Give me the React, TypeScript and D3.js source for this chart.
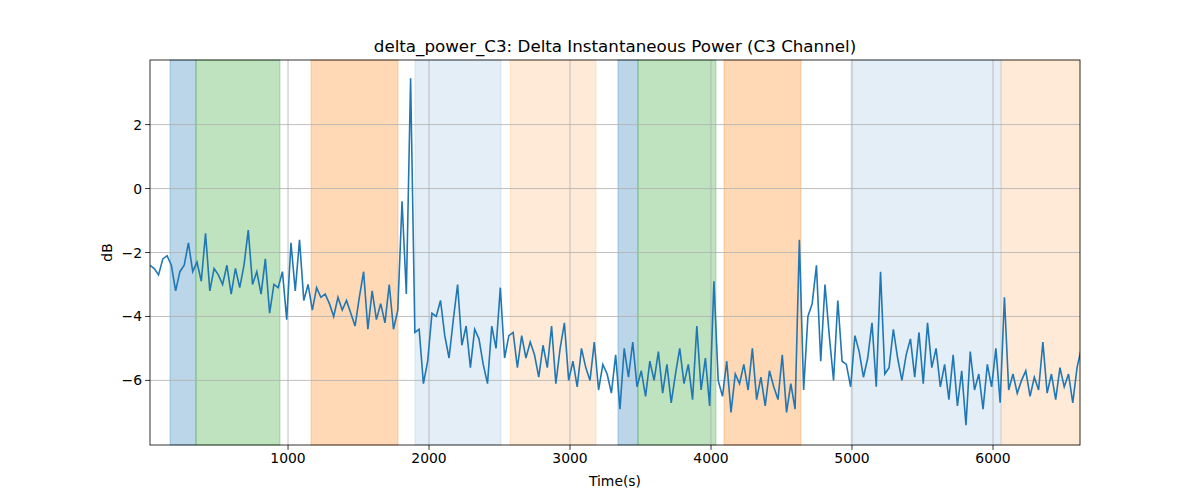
import React from "react";
import * as d3 from "d3";

const START = 21;
const STEP = 30.3;
const values: number[] = [
  -2.4, -2.5, -2.7, -2.2, -2.1, -2.4, -3.2, -2.6, -2.4, -1.7, -2.6, -2.3, -2.9, -1.4, -3.2, -2.5, -2.7, -3.0, -2.4, -3.3, -2.5, -3.1, -2.4, -1.3, -3.0, -2.6, -3.3, -2.2, -3.9, -3.0, -3.1, -2.6, -4.1,
  -1.7, -3.2, -1.6, -3.5, -3.0, -3.8, -3.1, -3.4, -3.3, -3.6, -4.0, -3.4, -3.8, -3.5, -3.9, -4.3, -3.4, -2.6, -4.4, -3.2, -4.1, -3.6, -4.2, -3.0, -4.4, -3.8, -0.4, -3.3, 3.45, -4.5, -4.4, -6.1, -5.4,
  -3.9, -4.0, -3.5, -4.6, -5.3, -4.1, -3.0, -4.9, -4.3, -5.6, -4.4, -4.7, -5.5, -6.1, -4.3, -5.0, -3.1, -5.3, -4.6, -4.5, -5.6, -4.6, -5.3, -4.8, -5.2, -5.9, -4.9, -5.6, -4.3, -6.1, -5.0, -4.2, -6.0,
  -5.4, -6.2, -5.0, -5.6, -6.0, -4.8, -6.3, -5.5, -5.8, -6.4, -5.2, -6.9, -5.0, -5.9, -4.8, -6.2, -5.7, -6.5, -5.4, -6.0, -5.1, -6.4, -5.5, -6.7, -5.8, -5.0, -6.1, -5.5, -6.6, -4.3, -6.3, -5.3, -6.8,
  -2.9, -6.0, -6.5, -5.4, -7.0, -5.8, -6.1, -5.5, -6.3, -5.0, -6.6, -5.9, -6.8, -5.7, -6.2, -6.6, -5.2, -7.0, -6.1, -6.9, -1.6, -6.3, -4.0, -3.6, -2.4, -5.4, -3.0, -4.6, -6.0, -3.5, -5.4, -5.5, -6.2,
  -4.6, -5.1, -5.9, -5.3, -4.2, -6.2, -2.6, -5.8, -5.6, -4.4, -5.3, -6.0, -5.2, -4.7, -5.9, -4.5, -6.1, -4.2, -5.6, -5.0, -6.2, -5.5, -6.6, -5.2, -6.8, -5.7, -7.4, -5.1, -6.3, -5.8, -6.9, -5.5, -6.2,
  -5.0, -6.7, -3.4, -6.3, -5.8, -6.4, -6.0, -5.7, -6.5, -5.9, -6.3, -4.8, -6.4, -5.8, -6.6, -5.6, -6.2, -5.8, -6.7, -5.6, -5.0,
];
const times = values.map((_, i) => START + STEP * i);

const spanStarts = [163, 347, 1163, 1900, 2575, 3340, 3482, 4092, 4993, 6057];
const spanEnds = [347, 943, 1780, 2511, 3184, 3482, 4035, 4638, 6057, 6617];
const spanColors = ["#1f77b4", "#2ca02c", "#ff7f0e", "#1f77b4", "#ff7f0e", "#1f77b4", "#2ca02c", "#ff7f0e", "#1f77b4", "#ff7f0e"];
const spanAlphas = [0.3, 0.3, 0.3, 0.12, 0.16, 0.3, 0.3, 0.3, 0.12, 0.16];

const xTicks = [1000, 2000, 3000, 4000, 5000, 6000];
const yTicks = [2, 0, -2, -4, -6];

export default function App() {
  const m = { left: 150, right: 1080, top: 60, bottom: 445 };
  const x = d3.scaleLinear().domain([21, 6617]).range([m.left, m.right]);
  const y = d3.scaleLinear().domain([-8.02, 4.02]).range([m.bottom, m.top]);
  const line = d3.line<number>().x((_, i) => x(times[i])).y((d) => y(d));
  const font = "DejaVu Sans, sans-serif";
  return (
    <svg width={1200} height={500} style={{ position: "absolute", left: 0, top: 0, background: "#fff" }} fontFamily={font}>
      <defs>
        <clipPath id="c"><rect x={m.left} y={m.top} width={m.right - m.left} height={m.bottom - m.top} /></clipPath>
      </defs>
      {spanStarts.map((s, i) => (
        <rect key={i} x={x(s)} y={m.top} width={x(spanEnds[i]) - x(s)} height={m.bottom - m.top}
          fill={spanColors[i]} fillOpacity={spanAlphas[i]} stroke={spanColors[i]} strokeOpacity={spanAlphas[i]} />
      ))}
      {xTicks.map((t) => <line key={t} x1={x(t)} x2={x(t)} y1={m.top} y2={m.bottom} stroke="#b0b0b0" strokeWidth={0.8} />)}
      {yTicks.map((t) => <line key={t} x1={m.left} x2={m.right} y1={y(t)} y2={y(t)} stroke="#b0b0b0" strokeWidth={0.8} />)}
      <path d={line(values) || ""} fill="none" stroke="#1f77b4" strokeWidth={1.6} clipPath="url(#c)" />
      <rect x={m.left} y={m.top} width={m.right - m.left} height={m.bottom - m.top} fill="none" stroke="#000" strokeWidth={0.8} />
      {xTicks.map((t) => (
        <g key={t}>
          <line x1={x(t)} x2={x(t)} y1={m.bottom} y2={m.bottom + 4.9} stroke="#000" strokeWidth={0.8} />
          <text x={x(t)} y={m.bottom + 18} fontSize={13.9} textAnchor="middle">{t}</text>
        </g>
      ))}
      {yTicks.map((t) => (
        <g key={t}>
          <line x1={m.left - 4.9} x2={m.left} y1={y(t)} y2={y(t)} stroke="#000" strokeWidth={0.8} />
          <text x={m.left - 8} y={y(t) + 5} fontSize={13.9} textAnchor="end">{t < 0 ? `\u2212${-t}` : t}</text>
        </g>
      ))}
      <text x={(m.left + m.right) / 2} y={486} fontSize={13.9} textAnchor="middle">Time(s)</text>
      <text transform={`translate(112,${(m.top + m.bottom) / 2}) rotate(-90)`} fontSize={13.9} textAnchor="middle">dB</text>
      <text x={(m.left + m.right) / 2} y={52} fontSize={16.7} textAnchor="middle">delta_power_C3: Delta Instantaneous Power (C3 Channel)</text>
    </svg>
  );
}
